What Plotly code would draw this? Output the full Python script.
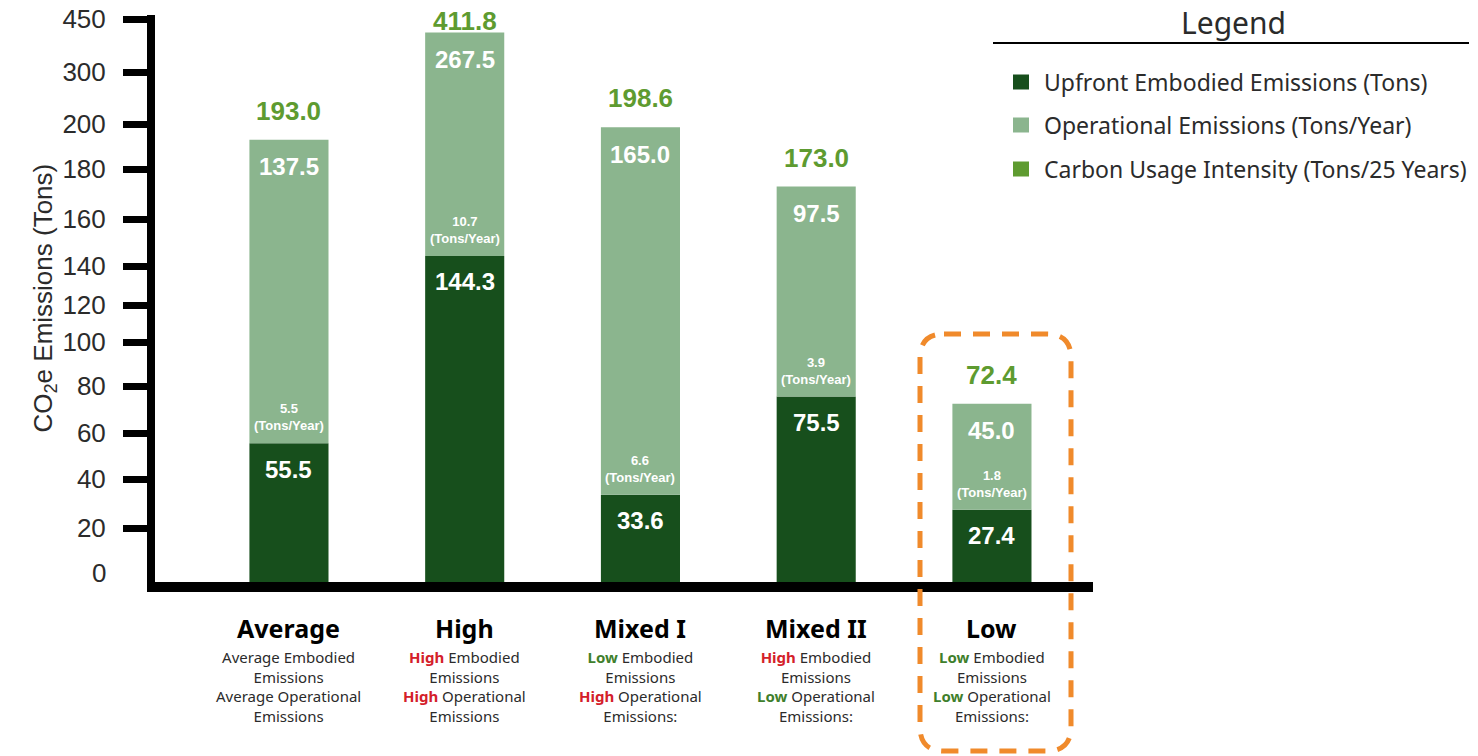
"""Stacked CO2e emissions per building scenario, on a broken (non-linear) y axis."""

import numpy as np
import plotly.graph_objects as go

CATEGORIES = ["Average", "High", "Mixed I", "Mixed II", "Low"]
EMBODIED = [55.5, 144.3, 33.6, 75.5, 27.4]
OPERATIONAL = [137.5, 267.5, 165.0, 97.5, 45.0]
OPERATIONAL_PER_YEAR = [5.5, 10.7, 6.6, 3.9, 1.8]
EMBODIED_LEVEL = ["Average", "High", "Low", "High", "Low"]
OPERATIONAL_LEVEL = ["Average", "High", "High", "Low", "Low"]
LINE_END = ["", "", ":", ":", ":"]

TICK_VALUES = [0, 20, 40, 60, 80, 100, 120, 140, 160, 180, 200, 300, 450]
LEGEND_LABELS = [
    "Upfront Embodied Emissions (Tons)",
    "Operational Emissions (Tons/Year)",
    "Carbon Usage Intensity (Tons/25 Years)",
]

# broken axis: where each tick value sits on the drawn axis (uneven spacing)
AXIS_STOPS = [0, 54, 103, 149, 196, 240, 277, 316, 363, 413, 458, 510, 563]

DARK = "#174f1c"
LIGHT = "#8bb58e"
TOTAL = "#5e9b30"
RED = "#d4202a"
LOWGREEN = "#3f7f2c"
ORANGE = "#f08a2b"
TEXT = "#2b2b2b"
NUM_FONT = "Liberation Sans"
LABEL_FONT = "Noto Sans"

# the page body adds an 8px margin, so the figure is laid out in page pixels minus that
PAGE_PAD = 8
W, H = 1478 - PAGE_PAD, 756 - PAGE_PAD
L, R, T, B = 151, 1093, 15, 592  # plot area, page pixels


def to_axis(v):
    return np.interp(v, TICK_VALUES, AXIS_STOPS)


def px(x):
    return (x - L) / (R - L)


def py(y):
    return (B - y) / (B - T)


def level_html(level):
    if level == "High":
        return f"<span style='color:{RED}'><b>High</b></span>"
    if level == "Low":
        return f"<span style='color:{LOWGREEN}'><b>Low</b></span>"
    return level


totals = [e + o for e, o in zip(EMBODIED, OPERATIONAL)]
emb_pos = to_axis(EMBODIED)
tot_pos = to_axis(totals)
# total sits ~29px above its bar, but never above the top of the canvas
total_label_pos = np.minimum(tot_pos + 29, 561)

fig = go.Figure()
fig.add_trace(
    go.Bar(
        x=CATEGORIES,
        y=emb_pos,
        width=0.45,
        marker=dict(color=DARK, line=dict(width=0)),
        name=LEGEND_LABELS[0],
        customdata=EMBODIED,
        hovertemplate="%{x}: %{customdata}<extra></extra>",
    )
)
fig.add_trace(
    go.Bar(
        x=CATEGORIES,
        y=tot_pos - emb_pos,
        base=emb_pos,
        width=0.45,
        marker=dict(color=LIGHT, line=dict(width=0)),
        name=LEGEND_LABELS[1],
        customdata=OPERATIONAL,
        hovertemplate="%{x}: %{customdata}<extra></extra>",
    )
)

annotations = []
for i, cat in enumerate(CATEGORIES):
    annotations += [
        dict(x=cat, y=emb_pos[i], yshift=-26, text=f"<b>{EMBODIED[i]:.1f}</b>",
             font=dict(family=NUM_FONT, size=24, color="white")),
        dict(x=cat, y=tot_pos[i], yshift=-27, text=f"<b>{OPERATIONAL[i]:.1f}</b>",
             font=dict(family=NUM_FONT, size=24, color="white")),
        dict(x=cat, y=emb_pos[i], yshift=26,
             text=f"<b>{OPERATIONAL_PER_YEAR[i]:.1f}<br>(Tons/Year)</b>",
             font=dict(family=NUM_FONT, size=13, color="white")),
        dict(x=cat, y=total_label_pos[i], text=f"<b>{totals[i]:.1f}</b>",
             font=dict(family=NUM_FONT, size=26, color=TOTAL)),
        dict(x=cat, yref="paper", y=py(628), text=f"<b>{cat}</b>",
             font=dict(family=LABEL_FONT, size=25, color="black")),
        dict(x=cat, yref="paper", y=py(686),
             text=(f"{level_html(EMBODIED_LEVEL[i])} Embodied<br>Emissions<br>"
                   f"{level_html(OPERATIONAL_LEVEL[i])} Operational<br>Emissions{LINE_END[i]}"),
             font=dict(family=LABEL_FONT, size=15, color=TEXT)),
    ]
for a in annotations:
    a.setdefault("showarrow", False)
    a.setdefault("xanchor", "center")
    a.setdefault("yanchor", "middle")

# zero label sits a little above the baseline
annotations.append(dict(xref="paper", x=px(108), y=9, text="0", showarrow=False,
                        xanchor="right", yanchor="middle",
                        font=dict(family=NUM_FONT, size=26, color=TEXT)))
annotations.append(dict(xref="paper", yref="paper", x=px(25), y=py(298),
                        text="CO<sub>2</sub>e Emissions (Tons)", textangle=-90,
                        showarrow=False, font=dict(family=NUM_FONT, size=26, color=TEXT)))

# hand-made legend
annotations.append(dict(xref="paper", yref="paper", x=px(1233), y=py(22), text="Legend",
                        showarrow=False, xanchor="center", yanchor="middle",
                        font=dict(family=LABEL_FONT, size=30, color=TEXT)))
shapes = [
    dict(type="line", xref="paper", yref="y", x0=0, x1=0, y0=-10, y1=567,
         line=dict(color="black", width=8)),
    dict(type="line", xref="paper", yref="y", x0=px(147), x1=1, y0=-5, y1=-5,
         line=dict(color="black", width=10)),
    dict(type="line", xref="paper", yref="paper", x0=px(993), x1=px(1469),
         y0=py(43), y1=py(43), line=dict(color="black", width=2)),
]
for label, color, yc in zip(LEGEND_LABELS, [DARK, LIGHT, TOTAL], [82, 125, 169]):
    shapes.append(dict(type="rect", xref="paper", yref="paper",
                       x0=px(1013), x1=px(1029), y0=py(yc - 7.5), y1=py(yc + 7.5),
                       fillcolor=color, line=dict(width=0)))
    annotations.append(dict(xref="paper", yref="paper", x=px(1042), y=py(yc), text=label,
                            showarrow=False, xanchor="left", yanchor="middle",
                            font=dict(family=LABEL_FONT, size=23, color=TEXT)))

# dashed rounded highlight around "Low"
bl, br, bt, bb, rad = 920, 1071, 334, 751, 24
path = (
    f"M {px(bl + rad)} {py(bt)} L {px(br - rad)} {py(bt)} "
    f"Q {px(br)} {py(bt)} {px(br)} {py(bt + rad)} L {px(br)} {py(bb - rad)} "
    f"Q {px(br)} {py(bb)} {px(br - rad)} {py(bb)} L {px(bl + rad)} {py(bb)} "
    f"Q {px(bl)} {py(bb)} {px(bl)} {py(bb - rad)} L {px(bl)} {py(bt + rad)} "
    f"Q {px(bl)} {py(bt)} {px(bl + rad)} {py(bt)} Z"
)
shapes.append(dict(type="path", xref="paper", yref="paper", path=path,
                   line=dict(color=ORANGE, width=5, dash="17px,12px")))

fig.update_layout(
    width=W,
    height=H,
    margin=dict(l=L - PAGE_PAD, r=W + PAGE_PAD - R, t=T - PAGE_PAD, b=H + PAGE_PAD - B),
    paper_bgcolor="white",
    plot_bgcolor="white",
    barmode="overlay",
    showlegend=False,
    xaxis=dict(range=[-0.785, 4.575], showticklabels=False, showgrid=False,
               zeroline=False, showline=False, ticks="", automargin=False),
    yaxis=dict(range=[-10, 567], tickmode="array", tickvals=AXIS_STOPS[1:],
               ticktext=[str(v) for v in TICK_VALUES[1:]], ticks="outside",
               ticklen=27, tickwidth=7, tickcolor="black", ticklabelstandoff=12,
               ticklabeloverflow="allow", automargin=False,
               tickfont=dict(family=NUM_FONT, size=26, color=TEXT),
               showgrid=False, zeroline=False, showline=False),
    annotations=annotations,
    shapes=shapes,
)

fig.write_html("out.html")
